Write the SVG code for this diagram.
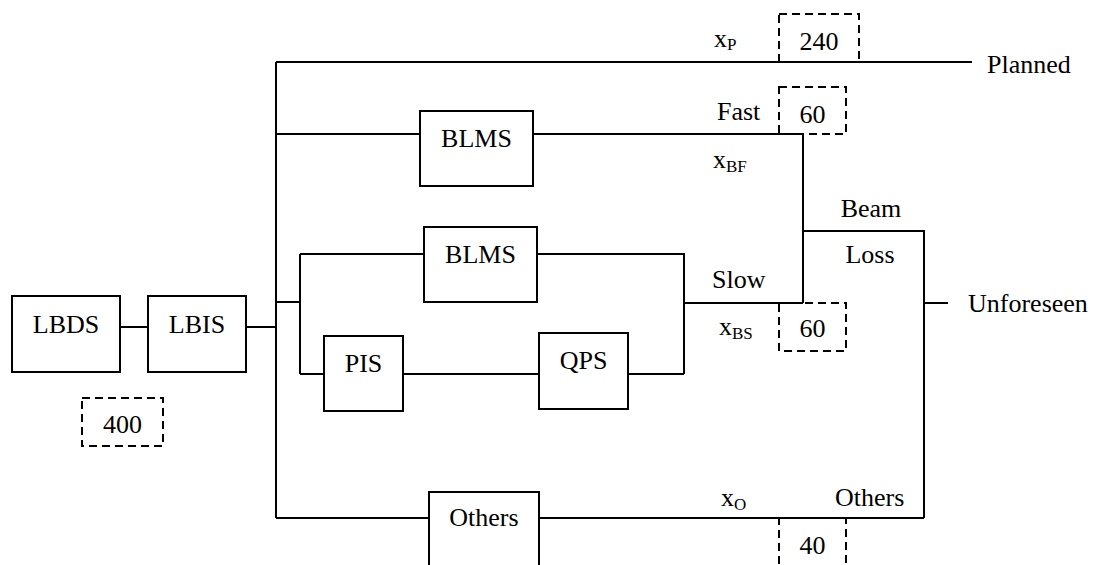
<svg xmlns="http://www.w3.org/2000/svg" width="1096" height="565" viewBox="0 0 1096 565" font-family="Liberation Serif, Times New Roman, serif">
<style>
text{font-family:'Liberation Serif','Times New Roman',Times,serif;font-size:26px;fill:#000}
.c{text-anchor:middle}
.sub{font-size:17px}
.box{fill:#fff;stroke:#000;stroke-width:2}
.dash{fill:none;stroke:#000;stroke-width:2;stroke-dasharray:8,5}
.ln{fill:none;stroke:#000;stroke-width:2}
</style>
<rect width="1096" height="565" fill="#fff"/>
<g id="connectors" class="ln">
<path d="M120,327H148M246,327H276M276,62V518M276,62H972"/>
<path d="M276,134H420M533,134H803V303"/>
<path d="M276,302H300M300,254V374M300,254H424M537,254H684V374M684,303H803"/>
<path d="M300,374H324M403,374H539M628,374H684"/>
<path d="M803,231H924V518M924,303H948"/>
<path d="M276,518H429M539,518H924"/>
</g>
<g id="LBDS"><rect class="box" x="12" y="296" width="108" height="76"/><text class="c" x="66" y="333">LBDS</text></g>
<g id="LBIS"><rect class="box" x="148" y="296" width="98" height="76"/><text class="c" x="197" y="333">LBIS</text></g>
<g id="BLMS_fast"><rect class="box" x="420" y="111" width="113" height="75"/><text class="c" x="476.5" y="147">BLMS</text></g>
<g id="BLMS_slow"><rect class="box" x="424" y="227" width="113" height="75"/><text class="c" x="480.5" y="263">BLMS</text></g>
<g id="PIS"><rect class="box" x="324" y="336" width="79" height="75"/><text class="c" x="363.5" y="372">PIS</text></g>
<g id="QPS"><rect class="box" x="539" y="333" width="89" height="76"/><text class="c" x="583.5" y="369">QPS</text></g>
<g id="Others_box"><rect class="box" x="429" y="492" width="110" height="85"/><text class="c" x="484" y="526">Others</text></g>
<g id="d400"><rect class="dash" x="82" y="398" width="81" height="48"/><text class="c" x="122.5" y="433">400</text></g>
<g id="d240"><rect class="dash" x="779" y="14" width="80" height="48"/><text class="c" x="819" y="50">240</text></g>
<g id="d60f"><rect class="dash" x="779" y="87" width="67" height="47"/><text class="c" x="812.5" y="123">60</text></g>
<g id="d60s"><rect class="dash" x="779" y="303" width="67" height="48"/><text class="c" x="812.5" y="337">60</text></g>
<g id="d40"><rect class="dash" x="779" y="518" width="67" height="60"/><text class="c" x="812.5" y="554">40</text></g>
<g id="labels">
<text x="714" y="47">x<tspan class="sub" dy="3">P</tspan></text>
<text x="987" y="73">Planned</text>
<text x="717" y="120">Fast</text>
<text x="713" y="168">x<tspan class="sub" dy="4">BF</tspan></text>
<text class="c" x="871" y="217">Beam</text>
<text class="c" x="870" y="263">Loss</text>
<text x="712" y="288">Slow</text>
<text x="968" y="312">Unforeseen</text>
<text x="719" y="335">x<tspan class="sub" dy="4">BS</tspan></text>
<text x="721" y="506">x<tspan class="sub" dy="4">O</tspan></text>
<text x="835" y="506">Others</text>
</g>
</svg>
